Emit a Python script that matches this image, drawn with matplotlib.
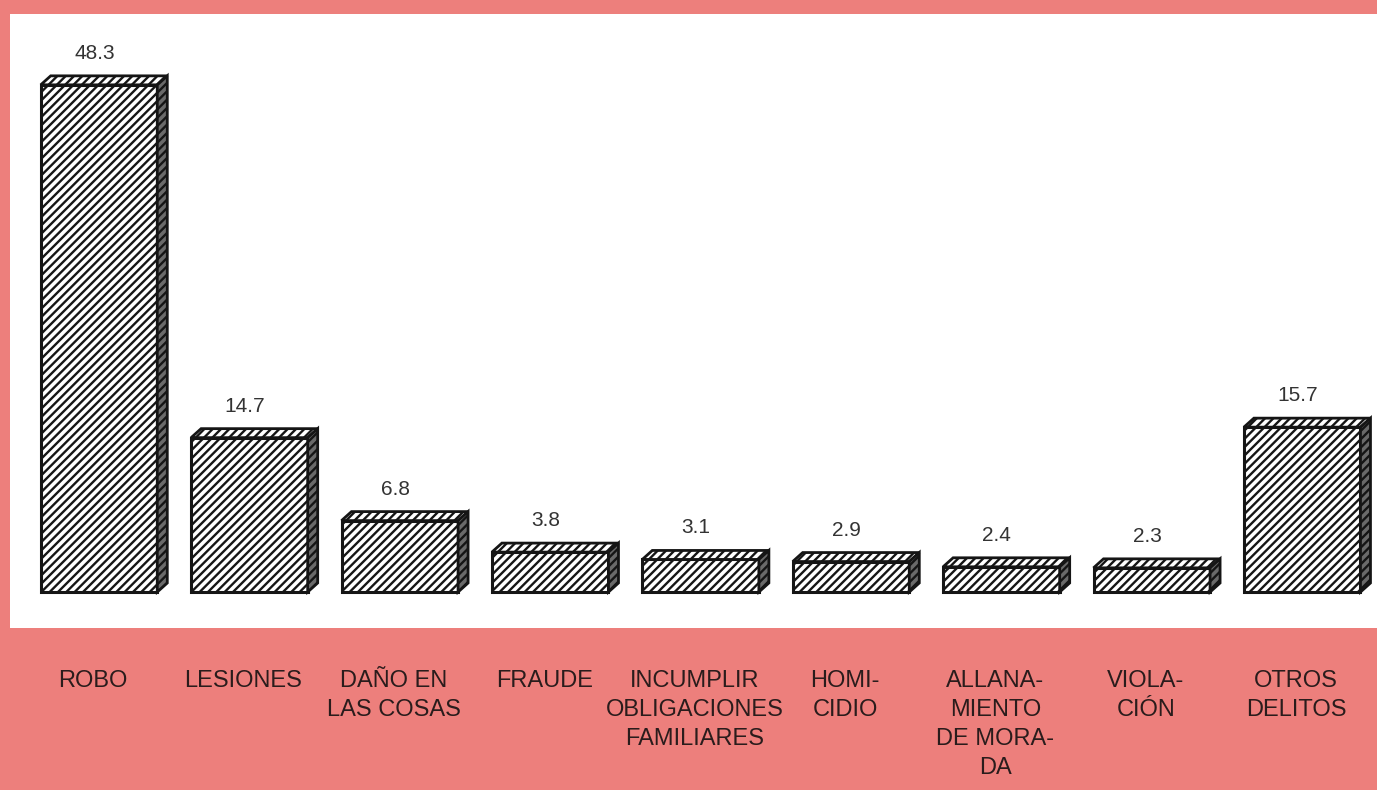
import matplotlib
matplotlib.use("Agg")
import matplotlib.pyplot as plt
from matplotlib.patches import Rectangle, Polygon

categories = ["ROBO", "LESIONES", "DAÑO EN\nLAS COSAS", "FRAUDE",
              "INCUMPLIR\nOBLIGACIONES\nFAMILIARES", "HOMI-\nCIDIO",
              "ALLANA-\nMIENTO\nDE MORA-\nDA", "VIOLA-\nCIÓN", "OTROS\nDELITOS"]
values = [48.3, 14.7, 6.8, 3.8, 3.1, 2.9, 2.4, 2.3, 15.7]
value_labels = ["48.3", "14.7", "6.8", "3.8", "3.1", "2.9", "2.4", "2.3", "15.7"]

W, H = 1377, 790
PINK = "#ED7F7C"
TXT = "#2a1c1c"
plt.rcParams['font.family'] = ['Liberation Sans', 'DejaVu Sans']
plt.rcParams['hatch.linewidth'] = 1.7

fig = plt.figure(figsize=(W / 100, H / 100), dpi=100)
fig.patch.set_facecolor(PINK)

ax = fig.add_axes([0, 0, 1, 1])
ax.set_facecolor("none")
x0px, xstep = 99, 150.4
base_px, ystep = H - 592, 10.5
ax.set_xlim((0 - x0px) / xstep, (W - x0px) / xstep)
ax.set_ylim((0 - base_px) / ystep, (H - base_px) / ystep)
ax.axis("off")

# white panel
ax.add_patch(Rectangle((10 / W, (H - 628) / H), (W - 10) / W, (628 - 14) / H,
                       transform=fig.transFigure, facecolor="white",
                       edgecolor="none", zorder=0))

bw = 0.775
dx = 10 / xstep
dy = 9 / ystep
xs = list(range(len(values)))
ax.bar(xs, values, width=bw, color="white", edgecolor="#151515",
       hatch="////", linewidth=2.2, zorder=3)
for i, v in zip(xs, values):
    l, r = i - bw / 2, i + bw / 2
    top = Polygon([(l, v), (l + dx, v + dy), (r + dx, v + dy), (r, v)],
                  closed=True, facecolor="white", edgecolor="#151515",
                  hatch="////", linewidth=2.0, zorder=3)
    side = Polygon([(r, 0), (r + dx, dy), (r + dx, v + dy), (r, v)],
                   closed=True, facecolor="#6a6a6a", edgecolor="#151515",
                   hatch="////", linewidth=2.0, zorder=3)
    ax.add_patch(top)
    ax.add_patch(side)
    ax.text(i - 0.03, v + 22 / ystep, value_labels[i], ha="center", va="bottom",
            fontsize=15, color="#333333", zorder=4)

for i, c in enumerate(categories):
    ax.text(i - 6 / xstep, (H - 670 - base_px) / ystep, c, ha="center", va="top",
            fontsize=17, color=TXT, linespacing=1.42)

fig.savefig("out.png", dpi=100, facecolor=PINK)
